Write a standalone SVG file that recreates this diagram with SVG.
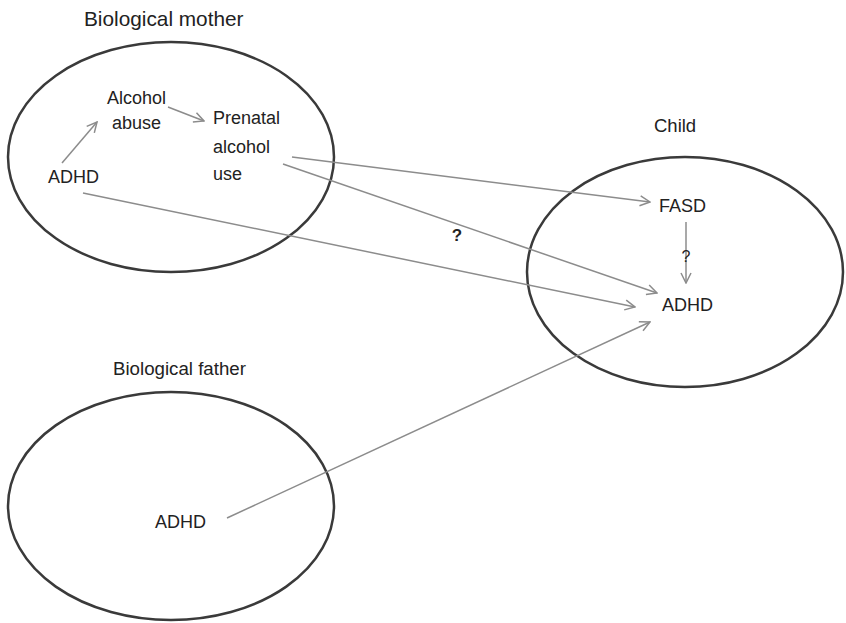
<svg xmlns="http://www.w3.org/2000/svg" width="846" height="623" viewBox="0 0 846 623">
<style>
.oval{fill:none;stroke:#3a3a3a;stroke-width:2.5}
.lbl{font-family:"Liberation Sans",Arial,sans-serif;fill:#222}
.t{font-size:18px}
.edge{fill:none;stroke:#8c8c8c;stroke-width:1.5}
</style>
<defs>
<marker id="ah" viewBox="0 0 12 12" refX="11" refY="6" markerWidth="12" markerHeight="12" markerUnits="userSpaceOnUse" orient="auto">
<path d="M1,1 L11,6 L1,11" fill="none" stroke="#8c8c8c" stroke-width="1.5"/>
</marker>
</defs>
<rect width="846" height="623" fill="#fff"/>
<g id="mother">
<ellipse class="oval" cx="171" cy="157" rx="163" ry="115"/>
<text class="lbl" x="84" y="26" font-size="20.8">Biological mother</text>
<text class="lbl t" x="107" y="104">Alcohol</text>
<text class="lbl t" x="112" y="129">abuse</text>
<text class="lbl t" x="213" y="124">Prenatal</text>
<text class="lbl t" x="213" y="153">alcohol</text>
<text class="lbl t" x="213" y="180">use</text>
<text class="lbl t" x="48" y="183">ADHD</text>
</g>
<g id="child">
<ellipse class="oval" cx="685" cy="272" rx="158" ry="115"/>
<text class="lbl" x="654" y="132" font-size="18.5">Child</text>
<text class="lbl t" x="659" y="212">FASD</text>
<text class="lbl t" x="662" y="311">ADHD</text>
</g>
<g id="father">
<ellipse class="oval" cx="171" cy="506" rx="163" ry="114"/>
<text class="lbl" x="113" y="375" font-size="18.7">Biological father</text>
<text class="lbl t" x="155" y="528">ADHD</text>
</g>
<g id="connectors">
<line class="edge" x1="62" y1="163" x2="97" y2="122" marker-end="url(#ah)"/>
<line class="edge" x1="168" y1="107" x2="204" y2="121" marker-end="url(#ah)"/>
<line class="edge" x1="292" y1="157" x2="650" y2="202" marker-end="url(#ah)"/>
<line class="edge" x1="283" y1="164" x2="657" y2="293" marker-end="url(#ah)"/>
<line class="edge" x1="83" y1="193" x2="635" y2="307" marker-end="url(#ah)"/>
<line class="edge" x1="227" y1="518" x2="650" y2="322" marker-end="url(#ah)"/>
<line class="edge" x1="686" y1="222" x2="686" y2="283" marker-end="url(#ah)"/>
<text class="lbl" x="686" y="262" font-size="16" text-anchor="middle">?</text>
<text class="lbl" x="457" y="241" font-size="17" font-weight="bold" text-anchor="middle">?</text>
</g>
</svg>
